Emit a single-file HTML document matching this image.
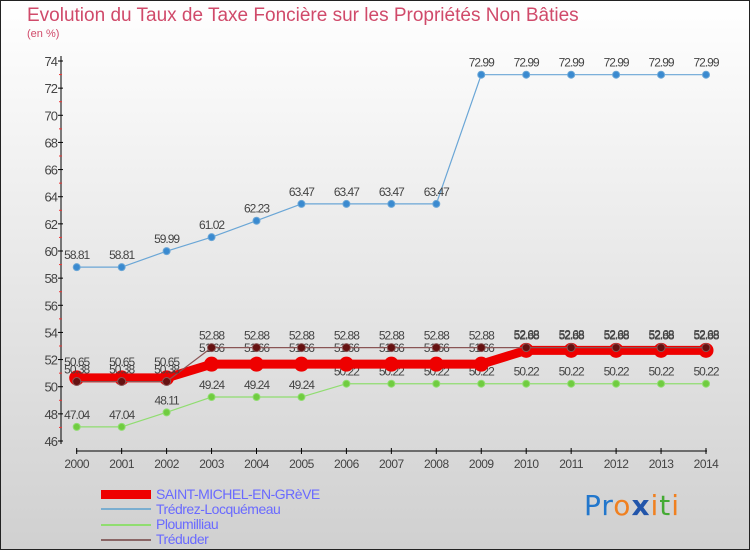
<!DOCTYPE html>
<html><head><meta charset="utf-8"><style>
body{margin:0}
#wrap{position:relative;width:750px;height:550px;box-sizing:border-box;border:1px solid #222;background:linear-gradient(#ffffff,#d0d0d0);font-family:"Liberation Sans",sans-serif;overflow:hidden}
.t{position:absolute;color:#d04a6a}
.leg{position:absolute;left:155px;font-size:14px;color:#6a6aff;letter-spacing:-0.5px;line-height:14px}
.ll{position:absolute;left:100px;width:50px}
</style></head><body>
<div id="wrap">
<div class="t" style="left:26px;top:4px;font-size:19px">Evolution du Taux de Taxe Foncière sur les Propriétés Non Bâties</div>
<div class="t" style="left:26px;top:27px;font-size:11px">(en %)</div>
<svg id="c" width="750" height="550" style="position:absolute;left:0;top:0"></svg>
<div class="ll" style="top:489px;height:9px;background:#ee0000"></div>
<div class="leg" style="top:486px">SAINT-MICHEL-EN-GRèVE</div>
<div class="ll" style="top:507px;height:2px;background:#7aaed0"></div>
<div class="leg" style="top:501px">Trédrez-Locquémeau</div>
<div class="ll" style="top:523px;height:2px;background:#90dd70"></div>
<div class="leg" style="top:516px">Ploumilliau</div>
<div class="ll" style="top:538px;height:2px;background:#8a6666"></div>
<div class="leg" style="top:531px">Tréduder</div>
<div style="position:absolute;left:583px;top:488px;font-size:28px;font-family:'DejaVu Sans',sans-serif;letter-spacing:1px"><span style="color:#2277cc">Pr</span><span style="color:#f08020">o</span><span style="color:#2255aa;font-weight:bold">x</span><span style="color:#f08020">i</span><span style="color:#44aa33">t</span><span style="color:#f08020">i</span></div>
</div>
<script>
const years=[2000,2001,2002,2003,2004,2005,2006,2007,2008,2009,2010,2011,2012,2013,2014];
const yTicks=[46,48,50,52,54,56,58,60,62,64,66,68,70,72,74];
const saintMichel=[50.65,50.65,50.65,51.66,51.66,51.66,51.66,51.66,51.66,51.66,52.68,52.68,52.68,52.68,52.68];
const tredrez=[58.81,58.81,59.99,61.02,62.23,63.47,63.47,63.47,63.47,72.99,72.99,72.99,72.99,72.99,72.99];
const ploumilliau=[47.04,47.04,48.11,49.24,49.24,49.24,50.22,50.22,50.22,50.22,50.22,50.22,50.22,50.22,50.22];
const treduder=[50.38,50.38,50.38,52.88,52.88,52.88,52.88,52.88,52.88,52.88,52.88,52.88,52.88,52.88,52.88];
const svg=document.getElementById('c');const NS='http://www.w3.org/2000/svg';
const X=i=>75.7+i*(705-75.7)/14;
const Y=v=>440-(v-46)*(380/28);
function mk(t,a,p){const e=document.createElementNS(NS,t);for(const k in a)e.setAttribute(k,a[k]);(p||svg).appendChild(e);return e;}
// axes
let ax=mk('line',{x1:60,y1:55,x2:60,y2:443,stroke:'#000','stroke-width':1});


let ax2=mk('line',{x1:75,y1:450,x2:706,y2:450,stroke:'#000','stroke-width':1});


yTicks.forEach((v,i)=>{
 mk('line',{x1:57,x2:62,y1:Y(v),y2:Y(v),stroke:'#000'});
 if(i<yTicks.length-1)mk('line',{x1:58,x2:61,y1:Y(v+1),y2:Y(v+1),stroke:'#e33'});
 const t=mk('text',{x:56,y:Y(v)+5,'text-anchor':'end','font-size':13,fill:'#444','letter-spacing':'-1'});t.textContent=v;
 
 
});
years.forEach((y,i)=>{
 mk('line',{x1:X(i),x2:X(i),y1:447,y2:453,stroke:'#000'});
 const t=mk('text',{x:X(i),y:467,'text-anchor':'middle','font-size':12,fill:'#444','letter-spacing':'-0.5'});t.textContent=y;
 
 
});
function series(vals,color,dot,w,r,name,labelOff){
 const g=mk('g',{});
 
 
 mk('polyline',{points:vals.map((v,i)=>X(i)+','+Y(v)).join(' '),fill:'none',stroke:color,'stroke-width':w,'stroke-linejoin':'round'},g);
 vals.forEach((v,i)=>{
  const c=mk('circle',{cx:X(i),cy:Y(v),r:r,fill:dot,stroke:color,'stroke-width':1},g);
  
  
  const t=mk('text',{x:X(i),y:Y(v)-labelOff,'text-anchor':'middle','font-size':12,fill:'#444','letter-spacing':'-1'},g);t.textContent=v.toFixed(2).replace(/0$/,'').replace(/\.$/,'');
  t.textContent=String(v);
  
  
 });
}
series(tredrez,'#6aa6d6','#3a8ad0',1.2,3.5,'series-tredrez',8);
series(ploumilliau,'#90dd70','#70cc40',1.2,3.5,'series-ploumilliau',8);
series(saintMichel,'#ee0000','#ee0000',9,7,'series-saint-michel',12);
series(treduder,'#8a5555','#661111',1.2,4,'series-treduder',8);
</script>
</body></html>
